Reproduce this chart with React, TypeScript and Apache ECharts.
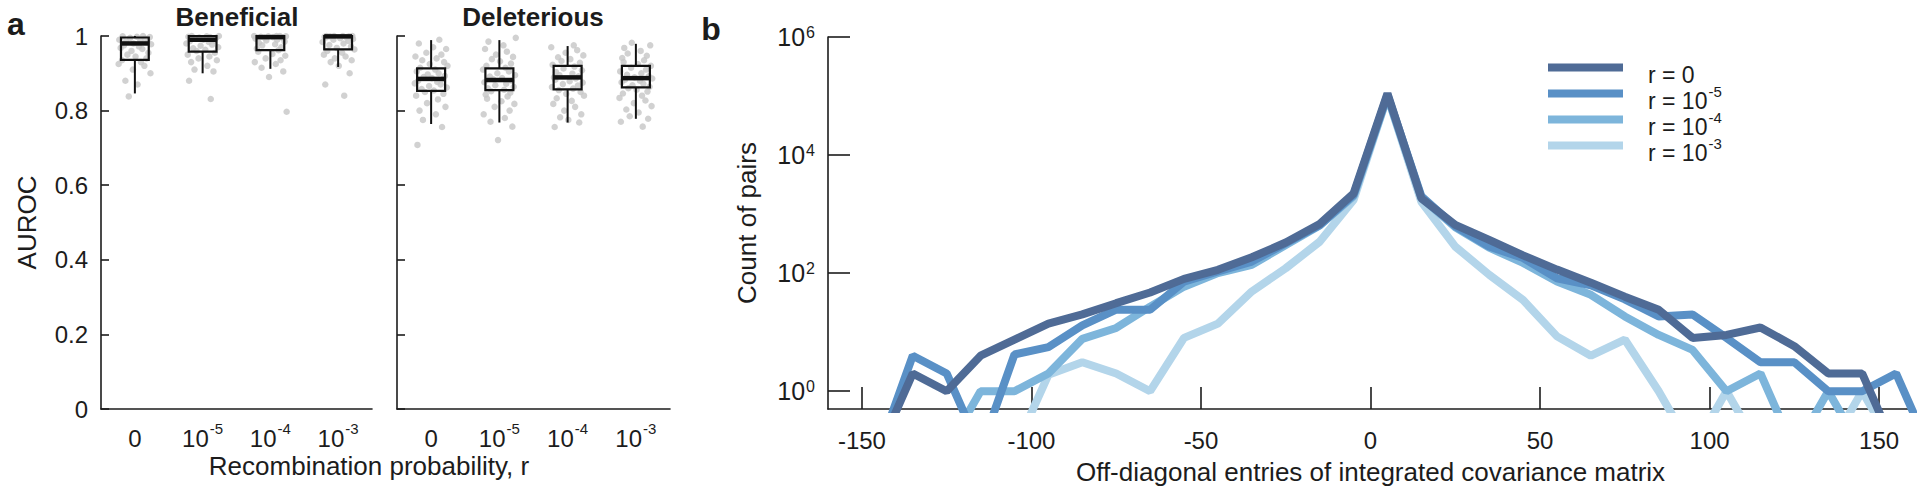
import React, { useEffect, useRef } from 'react';
import * as echarts from 'echarts';

// ---------- Panel a: AUROC box plots ----------
const R_LABELS = ['0', '10^-5', '10^-4', '10^-3'];

// [lower whisker, Q1, median, Q3, upper whisker]
const BENEFICIAL_BOX = [
  [0.846, 0.936, 0.98, 0.996, 1.0],
  [0.9, 0.958, 0.99, 1.0, 1.0],
  [0.912, 0.962, 0.997, 1.0, 1.0],
  [0.917, 0.964, 0.999, 1.0, 1.0],
];
const DELETERIOUS_BOX = [
  [0.764, 0.853, 0.885, 0.913, 0.989],
  [0.768, 0.855, 0.882, 0.913, 0.989],
  [0.768, 0.857, 0.889, 0.92, 0.973],
  [0.778, 0.862, 0.887, 0.92, 0.979],
];

const BEN_R0 = [1.0, 0.999, 0.998, 0.997, 0.995, 0.993, 0.99, 0.988, 0.985, 0.983, 0.98, 0.978, 0.975, 0.972, 0.968, 0.965, 0.96, 0.955, 0.95, 0.945, 0.94, 0.935, 0.93, 0.925, 0.92, 0.91, 0.9, 0.88, 0.87, 0.838];
const BEN_R5 = [1.0, 1.0, 0.999, 0.998, 0.997, 0.996, 0.995, 0.993, 0.99, 0.988, 0.986, 0.984, 0.98, 0.977, 0.974, 0.97, 0.967, 0.963, 0.96, 0.955, 0.95, 0.945, 0.94, 0.935, 0.93, 0.92, 0.91, 0.905, 0.88, 0.831];
const BEN_R4 = [1.0, 1.0, 1.0, 0.999, 0.999, 0.998, 0.997, 0.996, 0.995, 0.993, 0.99, 0.988, 0.985, 0.982, 0.978, 0.975, 0.97, 0.966, 0.962, 0.958, 0.952, 0.947, 0.94, 0.935, 0.93, 0.925, 0.915, 0.905, 0.89, 0.797];
const BEN_R3 = [1.0, 1.0, 1.0, 1.0, 0.999, 0.999, 0.998, 0.997, 0.996, 0.994, 0.992, 0.99, 0.987, 0.984, 0.98, 0.976, 0.972, 0.968, 0.964, 0.96, 0.955, 0.95, 0.945, 0.94, 0.935, 0.93, 0.92, 0.9, 0.87, 0.84];

const DEL_R0 = [0.99, 0.98, 0.97, 0.965, 0.955, 0.95, 0.945, 0.94, 0.935, 0.93, 0.925, 0.92, 0.915, 0.91, 0.905, 0.9, 0.897, 0.893, 0.89, 0.887, 0.884, 0.88, 0.877, 0.873, 0.87, 0.866, 0.862, 0.858, 0.854, 0.85, 0.845, 0.84, 0.83, 0.82, 0.81, 0.8, 0.79, 0.775, 0.756, 0.708];
const DEL_R5 = [0.995, 0.985, 0.975, 0.965, 0.958, 0.95, 0.944, 0.938, 0.932, 0.926, 0.92, 0.915, 0.91, 0.905, 0.9, 0.895, 0.891, 0.887, 0.884, 0.88, 0.876, 0.872, 0.868, 0.864, 0.86, 0.856, 0.852, 0.848, 0.843, 0.838, 0.832, 0.825, 0.818, 0.81, 0.8, 0.79, 0.78, 0.77, 0.757, 0.721];
const DEL_R4 = [0.975, 0.97, 0.962, 0.955, 0.948, 0.943, 0.938, 0.933, 0.928, 0.923, 0.918, 0.913, 0.908, 0.903, 0.899, 0.895, 0.892, 0.889, 0.886, 0.883, 0.879, 0.875, 0.871, 0.867, 0.863, 0.859, 0.855, 0.85, 0.845, 0.84, 0.833, 0.826, 0.818, 0.81, 0.8, 0.79, 0.782, 0.775, 0.768, 0.756];
const DEL_R3 = [0.982, 0.975, 0.968, 0.96, 0.953, 0.947, 0.941, 0.935, 0.93, 0.925, 0.92, 0.915, 0.91, 0.905, 0.9, 0.896, 0.892, 0.889, 0.886, 0.883, 0.88, 0.876, 0.872, 0.868, 0.864, 0.86, 0.856, 0.851, 0.846, 0.84, 0.834, 0.827, 0.82, 0.812, 0.803, 0.795, 0.785, 0.778, 0.77, 0.757];

// horizontal jitter of the dots, in category units
const JITTER = [0.12, -0.18, 0.03, 0.22, -0.07, 0.15, -0.23, 0.08, -0.13, 0.19, -0.02, 0.24, -0.16, 0.06, -0.21, 0.11, -0.05, 0.2, -0.11, 0.01, 0.17, -0.19, 0.09, -0.24, 0.14, -0.03, 0.23, -0.14, 0.04, -0.09, 0.18, -0.22, 0.1, -0.06, 0.21, -0.17, 0.07, -0.12, 0.16, -0.2];

// ---------- Panel b: histogram of off-diagonal entries ----------
const BINS = [-165, -155, -145, -135, -125, -115, -105, -95, -85, -75, -65, -55, -45, -35, -25, -15, -5, 5, 15, 25, 35, 45, 55, 65, 75, 85, 95, 105, 115, 125, 135, 145, 155, 165];
// 0.1 = empty bin (falls below the axis)
const COUNT_R0 = [0.1, 0.1, 0.1, 2, 1, 4, 7.5, 14, 20, 31, 47, 80, 114, 186, 330, 680, 2240, 110000, 1850, 655, 365, 200, 115, 69, 40, 24, 8, 9, 12, 5.8, 2, 2, 0.1, 0.1];
const COUNT_R5 = [0.1, 0.1, 0.1, 4, 2, 0.1, 4.2, 5.6, 13, 24, 24, 72, 107, 157, 320, 650, 2100, 105000, 2000, 620, 282, 180, 82, 62, 36, 18.5, 20, 8, 3.1, 3.1, 1, 1, 2, 0.1];
const COUNT_R4 = [0.1, 0.1, 0.1, 0.1, 0.1, 1, 1, 2, 7.7, 11.8, 27, 59, 100, 138, 300, 640, 2000, 100000, 1900, 600, 270, 149, 72, 43, 18.5, 9, 5, 1, 2, 0.1, 1, 0.1, 0.1, 0.1];
const COUNT_R3 = [0.1, 0.1, 0.1, 0.1, 0.1, 0.1, 0.1, 1.9, 3.1, 2, 1, 8, 14, 49, 121, 340, 1740, 100000, 1620, 282, 94, 35, 8.5, 4, 7.5, 1, 0.1, 1, 0.1, 0.1, 0.1, 1, 0.1, 0.1];

const SERIES_NAMES = ['r = 0', 'r = 10^-5', 'r = 10^-4', 'r = 10^-3'];
const SERIES_COLORS = ['#4f6b96', '#5990c6', '#7db5db', '#b3d5ea'];
const COUNT_TICKS = [1, 100, 10000, 1000000];
const OFFDIAG_TICKS = [-150, -100, -50, 0, 50, 100, 150];

const FONT = 'Liberation Sans, Arial, Helvetica, sans-serif';
const INK = '#1c1c1c';

function supText(label: string): string {
  const parts = String(label).split('^');
  return parts.length === 2 ? `{b|${parts[0]}}{s|${parts[1]}}` : `{b|${label}}`;
}

function jittered(groups: number[][]): number[][] {
  const out: number[][] = [];
  groups.forEach((vals, c) => {
    vals.forEach((v, i) => out.push([c + JITTER[(i + 11 * c) % JITTER.length], v]));
  });
  return out;
}

function boxData(stats: number[][]): number[][] {
  return stats.map((s, c) => [c, ...s]);
}

const renderBox = (params: any, api: any) => {
  const x = api.value(0);
  const low = api.coord([x, api.value(1)]);
  const q1 = api.coord([x, api.value(2)]);
  const med = api.coord([x, api.value(3)]);
  const q3 = api.coord([x, api.value(4)]);
  const high = api.coord([x, api.value(5)]);
  const w = api.size([1, 0])[0] * 0.41;
  const cx = q1[0];
  return {
    type: 'group',
    children: [
      { type: 'line', shape: { x1: cx, y1: low[1], x2: cx, y2: q1[1] }, style: { stroke: '#111', lineWidth: 2 } },
      { type: 'line', shape: { x1: cx, y1: q3[1], x2: cx, y2: high[1] }, style: { stroke: '#111', lineWidth: 2 } },
      { type: 'rect', shape: { x: cx - w / 2, y: q3[1], width: w, height: q1[1] - q3[1] }, style: { fill: 'none', stroke: '#111', lineWidth: 2.2 } },
      { type: 'line', shape: { x1: cx - w / 2, y1: med[1], x2: cx + w / 2, y2: med[1] }, style: { stroke: '#111', lineWidth: 4.5 } },
    ],
  };
};

export default function App() {
  const ref = useRef<HTMLDivElement>(null);

  useEffect(() => {
    document.body.style.margin = '0';
    if (!ref.current) return;
    const chart = echarts.init(ref.current, undefined, { renderer: 'svg' });

    const lineStyle = { color: INK, width: 1.6 };
    const axisLine = { show: true, onZero: false, lineStyle };
    const catRich = {
      b: { fontSize: 24, lineHeight: 26, fontFamily: FONT, color: INK, padding: [8, 0, 0, 0] },
      s: { fontSize: 15, lineHeight: 16, fontFamily: FONT, color: INK, padding: [3, 0, 15, 1] },
    };
    const catAxis = (gridIndex: number) => ({
      type: 'category',
      gridIndex,
      data: R_LABELS,
      axisLine,
      axisTick: { inside: true, length: 8, alignWithLabel: true, lineStyle },
      axisLabel: { margin: 12, interval: 0, formatter: supText, rich: catRich, color: INK },
      splitLine: { show: false },
    });

    const lineData = [COUNT_R0, COUNT_R5, COUNT_R4, COUNT_R3];
    const lineSeries = [3, 2, 1, 0].map((k) => ({
      type: 'line',
      name: SERIES_NAMES[k],
      xAxisIndex: 4,
      yAxisIndex: 2,
      data: BINS.map((b, i) => [b, lineData[k][i]]),
      showSymbol: false,
      symbol: 'none',
      clip: true,
      color: SERIES_COLORS[k],
      lineStyle: { width: 8, color: SERIES_COLORS[k] },
      z: 3 + (3 - k),
    }));

    const option: any = {
      animation: false,
      textStyle: { fontFamily: FONT, color: INK },
      grid: [
        { left: 101, top: 36, width: 271, height: 373 },
        { left: 397, top: 36, width: 273, height: 373 },
        { left: 828, top: 37, width: 1085, height: 372 },
      ],
      xAxis: [
        catAxis(0),
        catAxis(1),
        { type: 'value', gridIndex: 0, min: -0.5, max: 3.5, show: false },
        { type: 'value', gridIndex: 1, min: -0.5, max: 3.5, show: false },
        {
          type: 'value', gridIndex: 2, min: -160, max: 160,
          axisLine,
          axisTick: { inside: true, length: 22, customValues: OFFDIAG_TICKS, lineStyle },
          axisLabel: { customValues: OFFDIAG_TICKS, fontSize: 24, margin: 19, color: INK, fontFamily: FONT },
          splitLine: { show: false },
          name: 'Off-diagonal entries of integrated covariance matrix',
          nameLocation: 'middle', nameGap: 50,
          nameTextStyle: { fontSize: 26, color: INK, fontFamily: FONT },
        },
      ],
      yAxis: [
        {
          type: 'value', gridIndex: 0, min: 0, max: 1, interval: 0.2,
          axisLine,
          axisTick: { inside: true, length: 8, lineStyle },
          axisLabel: { fontSize: 24, margin: 13, color: INK, fontFamily: FONT },
          splitLine: { show: false },
          name: 'AUROC', nameLocation: 'middle', nameGap: 61,
          nameTextStyle: { fontSize: 26, color: INK, fontFamily: FONT },
        },
        {
          type: 'value', gridIndex: 1, min: 0, max: 1, interval: 0.2,
          axisLine,
          axisTick: { inside: true, length: 8, lineStyle },
          axisLabel: { show: false },
          splitLine: { show: false },
        },
        {
          type: 'log', gridIndex: 2, logBase: 10, min: 0.5, max: 1000000,
          axisLine,
          axisTick: { inside: true, length: 22, customValues: COUNT_TICKS, lineStyle },
          axisLabel: {
            customValues: COUNT_TICKS,
            margin: 13,
            formatter: (v: number) => `{b|10}{s|${Math.round(Math.log10(v))}}`,
            rich: {
              b: { fontSize: 25, lineHeight: 26, fontFamily: FONT, color: INK },
              s: { fontSize: 16, lineHeight: 17, fontFamily: FONT, color: INK, padding: [0, 0, 9, 1] },
            },
          },
          splitLine: { show: false },
          name: 'Count of pairs', nameLocation: 'middle', nameGap: 68,
          nameTextStyle: { fontSize: 26, color: INK, fontFamily: FONT },
        },
      ],
      legend: {
        orient: 'vertical',
        left: 1548,
        top: 49,
        padding: 0,
        itemWidth: 75,
        itemHeight: 8,
        itemGap: -11,
        icon: 'rect',
        selectedMode: false,
        data: SERIES_NAMES,
        formatter: supText,
        textStyle: {
          rich: {
            b: { fontSize: 23, lineHeight: 24, fontFamily: FONT, color: INK, padding: [14, 0, 0, 20] },
            s: { fontSize: 15, lineHeight: 16, fontFamily: FONT, color: INK, padding: [9, 0, 13, 1] },
          },
        },
      },
      graphic: [
        { type: 'text', x: 16, y: 24, style: { text: 'a', font: `bold 32px ${FONT}`, fill: INK, align: 'center', verticalAlign: 'middle', textAlign: 'center', textVerticalAlign: 'middle' } },
        { type: 'text', x: 711, y: 29, style: { text: 'b', font: `bold 32px ${FONT}`, fill: INK, align: 'center', verticalAlign: 'middle', textAlign: 'center', textVerticalAlign: 'middle' } },
        { type: 'text', x: 237, y: 17, style: { text: 'Beneficial', font: `bold 26px ${FONT}`, fill: INK, align: 'center', verticalAlign: 'middle', textAlign: 'center', textVerticalAlign: 'middle' } },
        { type: 'text', x: 533, y: 17, style: { text: 'Deleterious', font: `bold 26px ${FONT}`, fill: INK, align: 'center', verticalAlign: 'middle', textAlign: 'center', textVerticalAlign: 'middle' } },
        { type: 'text', x: 369, y: 466, style: { text: 'Recombination probability, r', font: `26px ${FONT}`, fill: INK, align: 'center', verticalAlign: 'middle', textAlign: 'center', textVerticalAlign: 'middle' } },
      ],
      series: [
        {
          type: 'scatter', xAxisIndex: 2, yAxisIndex: 0,
          data: jittered([BEN_R0, BEN_R5, BEN_R4, BEN_R3]),
          symbolSize: 6.5, itemStyle: { color: '#c6c6c6' }, z: 2, silent: true,
        },
        {
          type: 'scatter', xAxisIndex: 3, yAxisIndex: 1,
          data: jittered([DEL_R0, DEL_R5, DEL_R4, DEL_R3]),
          symbolSize: 6.5, itemStyle: { color: '#c6c6c6' }, z: 2, silent: true,
        },
        {
          type: 'custom', xAxisIndex: 0, yAxisIndex: 0,
          data: boxData(BENEFICIAL_BOX), renderItem: renderBox,
          encode: { x: 0, y: [1, 2, 3, 4, 5] }, z: 5, silent: true,
        },
        {
          type: 'custom', xAxisIndex: 1, yAxisIndex: 1,
          data: boxData(DELETERIOUS_BOX), renderItem: renderBox,
          encode: { x: 0, y: [1, 2, 3, 4, 5] }, z: 5, silent: true,
        },
        ...lineSeries,
      ],
    };

    chart.setOption(option);
    return () => chart.dispose();
  }, []);

  return <div ref={ref} style={{ width: 1920, height: 494 }} />;
}
